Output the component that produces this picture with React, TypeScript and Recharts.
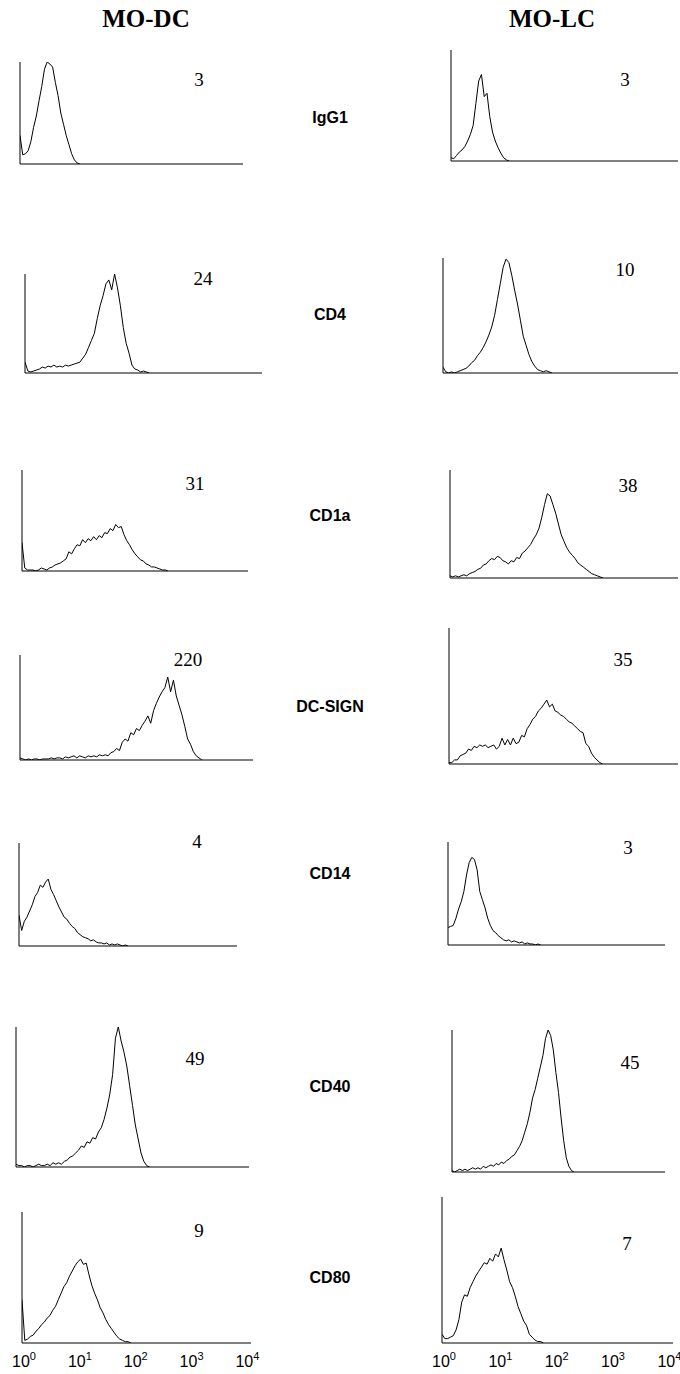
import React from 'react';
import { LineChart, Line, XAxis, YAxis } from 'recharts';

// fluorescence channel positions, in decades (10^0 .. 10^4)
const CHANNELS = [
  0, 0.05, 0.1, 0.15, 0.2, 0.25, 0.3, 0.35, 0.4, 0.45,
  0.5, 0.55, 0.6, 0.65, 0.7, 0.75, 0.8, 0.85, 0.9, 0.95,
  1, 1.05, 1.1, 1.15, 1.2, 1.25, 1.3, 1.35, 1.4, 1.45,
  1.5, 1.55, 1.6, 1.65, 1.7, 1.75, 1.8, 1.85, 1.9, 1.95,
  2, 2.05, 2.1, 2.15, 2.2, 2.25, 2.3, 2.35, 2.4, 2.45,
  2.5, 2.55, 2.6, 2.65, 2.7, 2.75, 2.8, 2.85, 2.9, 2.95,
  3, 3.05, 3.1, 3.15, 3.2, 3.25, 3.3, 3.35, 3.4, 3.45,
  3.5, 3.55, 3.6, 3.65, 3.7, 3.75, 3.8, 3.85, 3.9, 3.95, 4,
];

const MARKERS = ['IgG1', 'CD4', 'CD1a', 'DC-SIGN', 'CD14', 'CD40', 'CD80'];
const MFI_DC = ['3', '24', '31', '220', '4', '49', '9'];
const MFI_LC = ['3', '10', '38', '35', '3', '45', '7'];
const DECADES = [0, 1, 2, 3, 4];

// relative cell counts (% of panel height) per channel
const IGG1_DC = [28, 9, 10, 13, 22, 36, 47, 62, 76, 93, 100, 98, 95, 80, 67, 50, 39, 28, 19, 10, 4, 1, 0];
const CD4_DC = [11, 2, 1, 2, 3, 4, 6, 5, 7, 6, 8, 6, 7, 6, 8, 7, 8, 9, 10, 11, 15, 19, 26, 33, 40, 55, 68, 78, 90, 94, 84, 100, 86, 68, 46, 30, 20, 8, 4, 3, 1, 2, 1, 0];
const CD1A_DC = [28, 3, 1, 1, 1, 0, 1, 3, 2, 1, 3, 4, 6, 7, 8, 10, 12, 19, 17, 22, 26, 25, 31, 28, 32, 30, 34, 31, 35, 33, 38, 37, 42, 40, 46, 43, 44, 36, 30, 26, 21, 17, 14, 11, 10, 7, 6, 4, 4, 3, 2, 1, 1, 0];
const DCSIGN_DC = [2, 1, 0, 1, 0, 1, 1, 0, 1, 1, 1, 2, 1, 2, 2, 1, 3, 2, 3, 4, 2, 4, 3, 2, 4, 3, 4, 3, 5, 4, 5, 4, 7, 8, 11, 9, 17, 20, 18, 26, 24, 30, 28, 33, 37, 42, 35, 47, 54, 60, 65, 69, 79, 65, 76, 61, 52, 43, 32, 20, 15, 8, 4, 2, 0];
const CD14_DC = [30, 15, 24, 28, 34, 40, 48, 52, 59, 57, 62, 65, 55, 50, 44, 38, 33, 28, 26, 22, 19, 17, 13, 11, 9, 8, 7, 5, 6, 4, 3, 3, 2, 3, 1, 2, 1, 2, 1, 0, 1, 0];
const CD40_DC = [2, 1, 1, 0, 1, 1, 0, 1, 2, 1, 1, 2, 1, 3, 2, 3, 2, 4, 5, 7, 8, 10, 12, 15, 14, 18, 17, 21, 20, 25, 28, 34, 42, 52, 66, 92, 100, 90, 82, 72, 58, 44, 30, 20, 10, 4, 1, 0];
const CD80_DC = [33, 2, 3, 5, 6, 9, 11, 14, 16, 19, 21, 25, 28, 33, 38, 43, 46, 51, 55, 59, 62, 64, 60, 61, 52, 44, 38, 33, 27, 23, 18, 14, 11, 8, 5, 3, 2, 1, 1, 0];

const IGG1_LC = [3, 2, 5, 8, 10, 13, 18, 24, 32, 52, 72, 78, 58, 61, 40, 26, 18, 12, 7, 3, 1, 0];
const CD4_LC = [5, 1, 0, 1, 0, 1, 2, 3, 4, 6, 9, 11, 15, 18, 22, 27, 33, 40, 50, 64, 78, 92, 99, 96, 85, 72, 60, 46, 32, 24, 16, 10, 6, 3, 2, 1, 2, 1, 0];
const CD1A_LC = [2, 1, 2, 1, 2, 3, 2, 4, 5, 6, 8, 9, 12, 13, 16, 18, 17, 20, 19, 16, 15, 13, 16, 15, 19, 18, 23, 25, 28, 31, 36, 40, 46, 56, 68, 78, 76, 68, 60, 50, 40, 34, 28, 24, 21, 18, 14, 12, 10, 8, 6, 4, 3, 2, 1, 0];
const DCSIGN_LC = [1, 1, 3, 3, 6, 7, 8, 11, 10, 13, 12, 14, 13, 14, 12, 13, 14, 11, 13, 19, 14, 18, 14, 19, 15, 16, 21, 20, 26, 29, 33, 35, 39, 41, 44, 47, 42, 44, 39, 38, 36, 35, 33, 31, 30, 28, 26, 24, 23, 15, 13, 8, 5, 3, 1, 0];
const CD14_LC = [17, 18, 19, 26, 35, 42, 52, 68, 80, 85, 83, 73, 52, 44, 36, 26, 19, 14, 12, 9, 7, 5, 4, 5, 3, 4, 3, 2, 3, 1, 2, 1, 1, 0, 1, 0];
const CD40_LC = [1, 0, 1, 2, 1, 2, 1, 2, 3, 2, 3, 2, 4, 3, 4, 5, 4, 6, 5, 7, 6, 8, 9, 11, 12, 15, 18, 22, 28, 34, 42, 52, 58, 66, 74, 82, 94, 100, 96, 86, 70, 56, 38, 22, 10, 4, 1, 0];
const CD80_LC = [6, 3, 3, 4, 5, 9, 16, 28, 33, 32, 38, 42, 46, 49, 52, 55, 54, 58, 56, 61, 59, 65, 57, 50, 42, 38, 32, 25, 20, 15, 12, 6, 4, 2, 1, 1, 0];

const SERIES_DC = [IGG1_DC, CD4_DC, CD1A_DC, DCSIGN_DC, CD14_DC, CD40_DC, CD80_DC];
const SERIES_LC = [IGG1_LC, CD4_LC, CD1A_LC, DCSIGN_LC, CD14_LC, CD40_LC, CD80_LC];

// panel boxes on the page: y-axis x, top, axis end x, baseline y
const BOX_DC = [
  [20, 62, 243, 164],
  [25, 274, 262, 373],
  [22, 470, 248, 571],
  [20, 655, 253, 760],
  [19, 843, 237, 946],
  [16, 1027, 249, 1167],
  [22, 1212, 251, 1343],
];
const BOX_LC = [
  [451, 50, 678, 161],
  [443, 258, 678, 373],
  [450, 470, 678, 578],
  [449, 628, 678, 764],
  [448, 842, 665, 945],
  [452, 1030, 665, 1172],
  [442, 1197, 673, 1343],
];
const MFI_POS_DC = [[199, 79], [203, 278], [195, 483], [188, 659], [197, 841], [195, 1058], [199, 1230]];
const MFI_POS_LC = [[625, 79], [625, 269], [628, 485], [623, 659], [628, 847], [630, 1062], [627, 1243]];
const MARKER_Y = [117, 314, 515, 706, 873, 1086, 1277];

const M = 3;
const AX = 1; // room kept for each axis line
const TICK_H = 30;

const DecadeTick = ({ x, y, payload }: any) => (
  <text x={x + 2} y={y + 16} textAnchor="middle" fontFamily="'Liberation Sans', Arial, sans-serif" fontSize={16} fill="#000">
    10<tspan dy={-7} fontSize={11}>{payload.value}</tspan>
  </text>
);

function Histogram({ counts, box, showTicks }: { counts: number[]; box: number[]; showTicks: boolean }) {
  const [left, top, right, bottom] = box;
  const data = counts.map((c, i) => ({ x: CHANNELS[i], y: c }));
  const w = right - left;
  const h = bottom - top;
  const xh = showTicks ? TICK_H : AX;
  return (
    <div style={{ position: 'absolute', left: left - M - AX, top: top - M }}>
      <LineChart width={w + 2 * M + AX} height={h + 2 * M + xh} data={data} margin={{ top: M, right: M, bottom: M, left: M }}>
        <XAxis
          type="number"
          dataKey="x"
          domain={[0, 4.1]}
          ticks={DECADES}
          interval={0}
          height={xh}
          tick={showTicks ? <DecadeTick /> : false}
          tickLine={false}
          axisLine={{ stroke: '#000', strokeWidth: 1 }}
          allowDataOverflow
        />
        <YAxis
          type="number"
          domain={[0, 100]}
          width={AX}
          tick={false}
          tickLine={false}
          axisLine={{ stroke: '#000', strokeWidth: 1 }}
          allowDataOverflow
        />
        <Line dataKey="y" type="linear" stroke="#000" strokeWidth={1} dot={false} isAnimationActive={false} />
      </LineChart>
    </div>
  );
}

export default function App() {
  const serif = "'Liberation Serif', 'Times New Roman', serif";
  const sans = "'Liberation Sans', Arial, sans-serif";
  return (
    <div style={{ position: 'absolute', left: 0, top: 0, width: 680, height: 1374, background: '#fff', overflow: 'hidden' }}>
      <style>{'.recharts-surface { overflow: visible; }'}</style>
      {SERIES_DC.map((s, i) => (
        <Histogram key={`dc-${i}`} counts={s} box={BOX_DC[i]} showTicks={i === SERIES_DC.length - 1} />
      ))}
      {SERIES_LC.map((s, i) => (
        <Histogram key={`lc-${i}`} counts={s} box={BOX_LC[i]} showTicks={i === SERIES_LC.length - 1} />
      ))}
      <svg width={680} height={1374} style={{ position: 'absolute', left: 0, top: 0, pointerEvents: 'none' }}>
        <text x={146} y={18} textAnchor="middle" dominantBaseline="central" fontFamily={serif} fontWeight="bold" fontSize={25}>MO-DC</text>
        <text x={552} y={18} textAnchor="middle" dominantBaseline="central" fontFamily={serif} fontWeight="bold" fontSize={25}>MO-LC</text>
        {MARKERS.map((m, i) => (
          <text key={m} x={330} y={MARKER_Y[i]} textAnchor="middle" dominantBaseline="central" fontFamily={sans} fontWeight="bold" fontSize={16}>{m}</text>
        ))}
        {MFI_DC.map((v, i) => (
          <text key={`mdc-${i}`} x={MFI_POS_DC[i][0]} y={MFI_POS_DC[i][1]} textAnchor="middle" dominantBaseline="central" fontFamily={serif} fontSize={19}>{v}</text>
        ))}
        {MFI_LC.map((v, i) => (
          <text key={`mlc-${i}`} x={MFI_POS_LC[i][0]} y={MFI_POS_LC[i][1]} textAnchor="middle" dominantBaseline="central" fontFamily={serif} fontSize={19}>{v}</text>
        ))}
      </svg>
    </div>
  );
}
